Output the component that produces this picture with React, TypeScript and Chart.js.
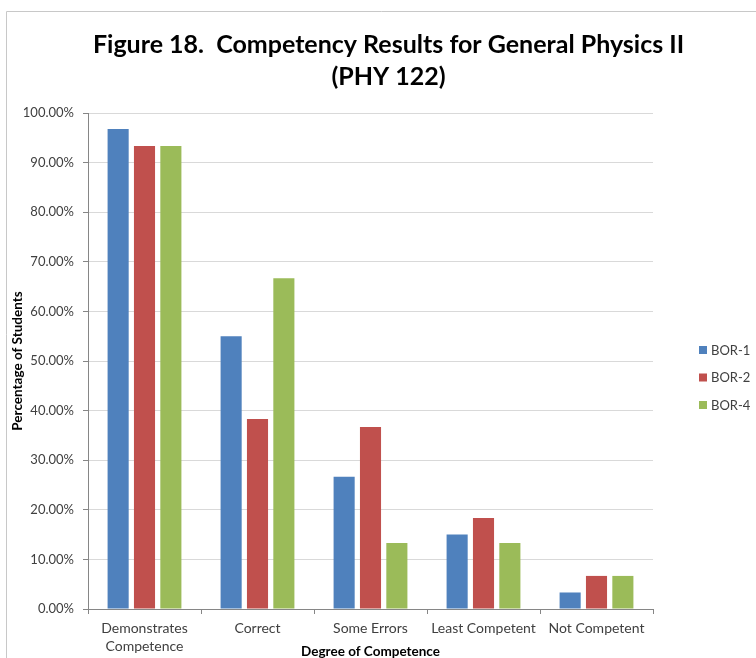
import React, { useEffect, useRef } from "react";
import { Chart, registerables } from "chart.js";

Chart.register(...registerables);

// Degree-of-competence categories (first one wraps onto two lines)
const categories: (string | string[])[] = [
  ["Demonstrates", "Competence"],
  "Correct",
  "Some Errors",
  "Least Competent",
  "Not Competent",
];

// Percentage of students per category, per assessment
const bor1 = [96.77, 55.0, 26.67, 15.0, 3.33];
const bor2 = [93.33, 38.33, 36.67, 18.33, 6.67];
const bor4 = [93.33, 66.67, 13.33, 13.33, 6.67];

const seriesNames = ["BOR-1", "BOR-2", "BOR-4"];
const seriesColors = ["#4F81BD", "#C0504D", "#9BBB59"];

const yMin = 0;
const yMax = 100;
const yStep = 10;

const titleLines = [
  "Figure 18.  Competency Results for General Physics II",
  "(PHY 122)",
];
const yAxisTitle = "Percentage of Students";
const xAxisTitle = "Degree of Competence";

const FONT = "Lato, 'Open Sans', sans-serif";
const TEXT_GRAY = "#404040";
const AXIS_GRAY = "#868686";

// Draws the outer frame, the two-line heading, axis titles and the legend.
const decorPlugin = {
  id: "decor",
  afterDraw(chart: Chart) {
    const ctx = chart.ctx;
    const area = chart.chartArea;
    ctx.save();

    // outer frame (top and left edges visible)
    ctx.strokeStyle = "#c8c8c8";
    ctx.lineWidth = 1;
    ctx.beginPath();
    ctx.moveTo(chart.width, 11.5);
    ctx.lineTo(6.5, 11.5);
    ctx.lineTo(6.5, chart.height);
    ctx.stroke();

    // heading
    const cx = (area.left + area.right) / 2 + 18;
    ctx.fillStyle = "#000000";
    ctx.textAlign = "center";
    ctx.textBaseline = "alphabetic";
    ctx.font = `bold 25px ${FONT}`;
    ctx.fillText(titleLines[0], cx, 53);
    ctx.fillText(titleLines[1], cx, 85);

    // y-axis title
    ctx.save();
    ctx.translate(18, (area.top + area.bottom) / 2);
    ctx.rotate(-Math.PI / 2);
    ctx.font = `bold 13.5px ${FONT}`;
    ctx.textAlign = "center";
    ctx.textBaseline = "middle";
    ctx.fillText(yAxisTitle, 0, 0);
    ctx.restore();

    // x-axis title
    ctx.font = `bold 13.5px ${FONT}`;
    ctx.textAlign = "center";
    ctx.textBaseline = "middle";
    ctx.fillText(xAxisTitle, (area.left + area.right) / 2, 652);

    // legend
    const legendX = 699;
    const legendY0 = 350;
    const legendGap = 27.5;
    ctx.font = `13px ${FONT}`;
    ctx.textAlign = "left";
    ctx.textBaseline = "middle";
    seriesNames.forEach((name, i) => {
      const y = legendY0 + i * legendGap;
      ctx.fillStyle = seriesColors[i];
      ctx.fillRect(legendX, y - 4, 8, 8);
      ctx.fillStyle = TEXT_GRAY;
      ctx.fillText(name, legendX + 12, y + 0.5);
    });

    ctx.restore();
  },
};

export default function App() {
  const canvasRef = useRef<HTMLCanvasElement | null>(null);

  useEffect(() => {
    const canvas = canvasRef.current;
    if (!canvas) return;
    const values = [bor1, bor2, bor4];
    const chart = new Chart(canvas, {
      type: "bar",
      data: {
        labels: categories,
        datasets: seriesNames.map((name, i) => ({
          label: name,
          data: values[i],
          backgroundColor: seriesColors[i],
          borderWidth: 0,
          categoryPercentage: 0.7,
          barPercentage: 0.8,
        })),
      },
      options: {
        responsive: false,
        animation: false,
        devicePixelRatio: 1,
        layout: { padding: { top: 113, right: 103, bottom: 0, left: 0 } },
        plugins: {
          legend: { display: false },
          title: { display: false },
          tooltip: { enabled: false },
        },
        scales: {
          x: {
            offset: true,
            afterFit: (scale: any) => {
              scale.height = 49;
            },
            grid: {
              display: true,
              drawOnChartArea: false,
              offset: true,
              tickLength: 5,
              color: AXIS_GRAY,
            },
            border: { display: true, color: AXIS_GRAY },
            ticks: {
              color: TEXT_GRAY,
              padding: 5,
              maxRotation: 0,
              autoSkip: false,
              font: { family: FONT, size: 14, lineHeight: 1.3 },
            },
          },
          y: {
            min: yMin,
            max: yMax,
            afterFit: (scale: any) => {
              scale.width = 88;
            },
            grid: {
              color: "#d9d9d9",
              tickColor: AXIS_GRAY,
              tickLength: 5,
            },
            border: { display: true, color: AXIS_GRAY },
            ticks: {
              stepSize: yStep,
              color: TEXT_GRAY,
              padding: 9,
              font: { family: FONT, size: 13 },
              callback: (v: any) => `${Number(v).toFixed(2)}%`,
            },
          },
        },
      },
      plugins: [decorPlugin],
    });
    return () => chart.destroy();
  }, []);

  return (
    <div style={{ position: "absolute", left: 0, top: 0, width: 756, height: 658, background: "#ffffff" }}>
      <canvas ref={canvasRef} width={756} height={658} style={{ display: "block" }} />
    </div>
  );
}
